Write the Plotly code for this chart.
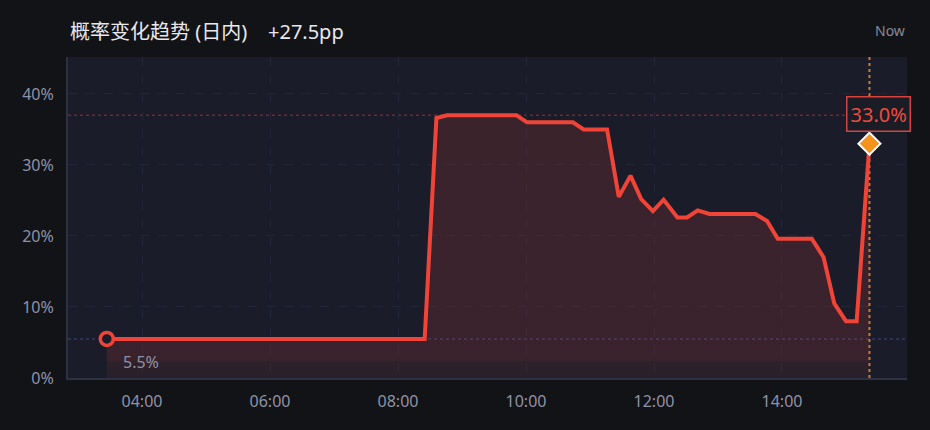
import plotly.graph_objects as go

DAY = "2024-05-20 "
times = ["03:27", "08:25", "08:36", "08:46", "09:51", "10:01", "10:44", "10:54",
         "11:16", "11:27", "11:38", "11:48", "11:59", "12:09", "12:22", "12:31",
         "12:41", "12:52", "13:35", "13:46", "13:56", "14:28", "14:39", "14:49",
         "15:00", "15:10", "15:22"]
probs = [5.5, 5.5, 36.6, 37.0, 37.0, 36.0, 36.0, 35.0,
         35.0, 25.5, 28.5, 25.2, 23.5, 25.1, 22.6, 22.6,
         23.6, 23.1, 23.1, 22.1, 19.6, 19.6, 17.0, 10.5,
         8.0, 8.0, 33.0]
x_vals = [DAY + t for t in times]

title_text = "概率变化趋势 (日内)"
change_text = "+27.5pp"
now_text = "Now"
y_ticks = [0, 10, 20, 30, 40]
y_tick_labels = ["0%", "10%", "20%", "30%", "40%"]
x_range = [DAY + "02:50:36", DAY + "15:57:12"]
y_range = [0, 45.2]

start_val = probs[0]
end_val = probs[-1]
max_val = max(probs)

LINE = "#f04438"
FONT = "Noto Sans, Noto Sans CJK SC, sans-serif"
TICK = "#8f92a6"
PLOT_BG = "#1a1d29"
PAPER_BG = "#121317"

fig = go.Figure()

fig.add_trace(go.Scatter(
    x=x_vals, y=probs, mode="lines",
    line=dict(color=LINE, width=4, shape="linear"),
    fill="tozeroy",
    fillgradient=dict(type="vertical", start=0, stop=max_val,
                      colorscale=[[0, "rgba(240,68,58,0.07)"],
                                  [0.055, "rgba(240,68,58,0.09)"],
                                  [0.065, "rgba(240,68,58,0.145)"],
                                  [1, "rgba(240,68,58,0.15)"]]),
    hoverinfo="skip", showlegend=False,
))

# start marker
fig.add_trace(go.Scatter(
    x=[x_vals[0]], y=[start_val], mode="markers",
    marker=dict(symbol="circle", size=13, color=PLOT_BG,
                line=dict(color=LINE, width=3.5)),
    hoverinfo="skip", showlegend=False,
))
# end marker
fig.add_trace(go.Scatter(
    x=[x_vals[-1]], y=[end_val], mode="markers",
    marker=dict(symbol="diamond", size=17, color="#f7931a",
                line=dict(color="#ffffff", width=2)),
    hoverinfo="skip", showlegend=False,
))

shapes = [
    dict(type="line", xref="paper", x0=0, x1=1, yref="y", y0=max_val, y1=max_val,
         line=dict(color="#6b2b30", width=1.5, dash="dot"), layer="below"),
    dict(type="line", xref="paper", x0=0, x1=1, yref="y", y0=start_val, y1=start_val,
         line=dict(color="#2f3d5e", width=1.5, dash="dot"), layer="below"),
    dict(type="line", xref="x", x0=x_vals[-1], x1=x_vals[-1], yref="paper", y0=0, y1=1,
         line=dict(color="#cf7f1c", width=2, dash="dot"), layer="below"),
]

annotations = [
    dict(xref="paper", yref="paper", x=0, y=1.078, xanchor="left", yanchor="middle",
         text=title_text + "    " + change_text, showarrow=False,
         font=dict(family=FONT, size=20, color="#e8e8ec")),
    dict(xref="paper", yref="paper", x=1, y=1.084, xanchor="right", yanchor="middle",
         text=now_text, showarrow=False,
         font=dict(family=FONT, size=14, color="#878a9c")),
    dict(x=x_vals[0], y=start_val, xanchor="left", yanchor="middle",
         xshift=14, yshift=-23, text=f"{start_val:.1f}%", showarrow=False,
         font=dict(family=FONT, size=16, color="#8f92a6")),
    dict(x=x_vals[-1], y=end_val, xanchor="center", yanchor="middle",
         xshift=9, yshift=30, text=f"{end_val:.1f}%", showarrow=False,
         font=dict(family=FONT, size=20, color="#f04a3e"),
         bgcolor="#1a1c26", bordercolor="#d9413a", borderwidth=1.5, borderpad=3),
]

fig.update_layout(
    width=930, height=430,
    margin=dict(l=68, r=23, t=57, b=52),
    paper_bgcolor=PAPER_BG, plot_bgcolor=PLOT_BG,
    font=dict(family=FONT, color=TICK, size=16),
    shapes=shapes, annotations=annotations,
    showlegend=False,
)
fig.update_xaxes(
    type="date", range=x_range, tickformat="%H:%M", dtick=2 * 3600 * 1000,
    tick0=DAY + "04:00", showgrid=True, gridcolor="#232636", griddash="dash",
    gridwidth=1, showline=True, linecolor="#2e3142", linewidth=2,
    zeroline=False, ticks="", ticklabelstandoff=8,
    tickfont=dict(family=FONT, size=16, color=TICK),
)
fig.update_yaxes(
    range=y_range, tickvals=y_ticks, ticktext=y_tick_labels,
    showgrid=True, gridcolor="#232636", griddash="dash", gridwidth=1,
    showline=True, linecolor="#2e3142", linewidth=2, zeroline=False,
    ticks="", ticklabelstandoff=9,
    tickfont=dict(family=FONT, size=16, color=TICK),
)

fig.write_html(
    "out.html",
    config={"displayModeBar": False},
    post_script="document.body.style.margin='0';document.body.style.background='#121317';",
)
